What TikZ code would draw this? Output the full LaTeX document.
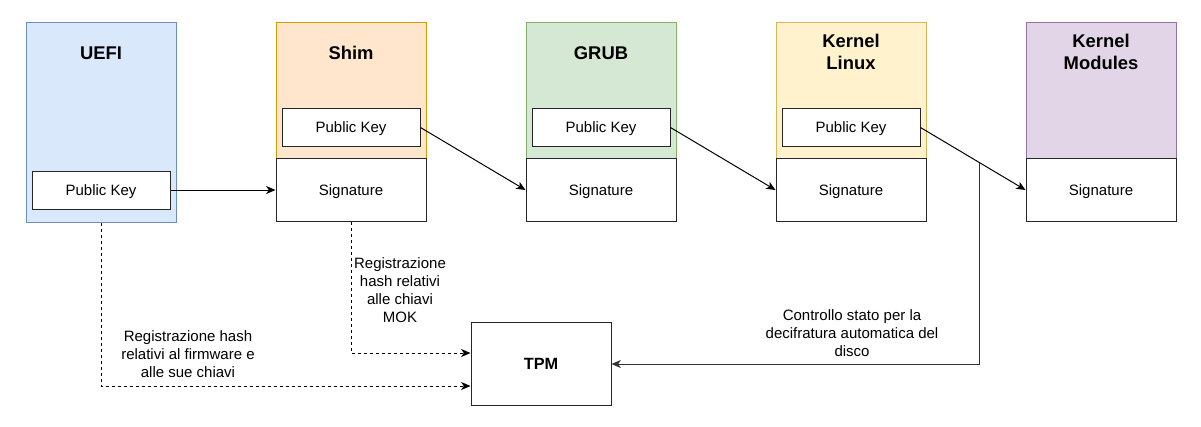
\documentclass[tikz,border=0pt]{standalone}
\usepackage{fontspec}
\setmainfont{Liberation Sans}
\usetikzlibrary{arrows.meta}
\definecolor{uefifill}{HTML}{DAE8FC}
\definecolor{uefiline}{HTML}{6C8EBF}
\definecolor{shimfill}{HTML}{FFE6CC}
\definecolor{shimline}{HTML}{D79B00}
\definecolor{grubfill}{HTML}{D5E8D4}
\definecolor{grubline}{HTML}{82B366}
\definecolor{kernfill}{HTML}{FFF2CC}
\definecolor{kernline}{HTML}{D6B656}
\definecolor{modfill}{HTML}{E1D5E7}
\definecolor{modline}{HTML}{9673A6}
\tikzset{
  stage/.style={draw, line width=0.75pt, minimum width=112.5pt, anchor=north, inner sep=0pt},
  sigbox/.style={draw=black!85, fill=white, line width=0.75pt, minimum width=112.5pt, minimum height=47.25pt, inner sep=0pt, text height=9pt, text depth=1pt, font=\fontsize{11.25}{13.5}\selectfont},
  keybox/.style={draw=black!85, fill=white, line width=0.75pt, minimum width=103.5pt, minimum height=28.5pt, inner sep=0pt, text height=9pt, text depth=1pt, font=\fontsize{11.25}{13.5}\selectfont},
  title/.style={font=\bfseries\fontsize{13.8}{16.5}\selectfont, align=center},
  note/.style={font=\fontsize{11.25}{13.5}\selectfont, align=center},
  link/.style={-{Stealth[length=7pt, width=6pt, inset=2pt]}, line width=0.75pt},
  reg/.style={link, dash pattern=on 2.25pt off 2.25pt}
}
\begin{document}
\begin{tikzpicture}[x=0.75pt, y=-0.75pt]
      \useasboundingbox (0,0) rectangle (1201,426);
      \def\top{21.5}
      \def\sigy{190}
      \def\keyy{127.5}

      % Stage boxes
      \node[stage, fill=uefifill, draw=uefiline, minimum height=150pt] (uefi) at (101,\top) {};
      \node[stage, fill=shimfill, draw=shimline, minimum height=102.75pt] (shim) at (351,\top) {};
      \node[stage, fill=grubfill, draw=grubline, minimum height=102.75pt] (grub) at (601,\top) {};
      \node[stage, fill=kernfill, draw=kernline, minimum height=102.75pt] (kern) at (851,\top) {};
      \node[stage, fill=modfill, draw=modline, minimum height=102.75pt] (mod) at (1101,\top) {};

      % Stage titles
      \node[title] (uefititle) at ([yshift=-23.5pt]uefi.north) {UEFI};
      \node[title] (shimtitle) at ([yshift=-23.5pt]shim.north) {Shim};
      \node[title] (grubtitle) at ([yshift=-23.5pt]grub.north) {GRUB};
      \node[title] (kerntitle) at ([yshift=-22.5pt]kern.north) {Kernel\\Linux};
      \node[title] (modtitle) at ([yshift=-22.5pt]mod.north) {Kernel\\Modules};

      % Signatures
      \node[sigbox] (shimsig) at (351,\sigy) {Signature};
      \node[sigbox] (grubsig) at (601,\sigy) {Signature};
      \node[sigbox] (kernsig) at (851,\sigy) {Signature};
      \node[sigbox] (modsig) at (1101,\sigy) {Signature};

      % Public keys
      \node[keybox] (uefikey) at (101,\sigy) {Public Key};
      \node[keybox] (shimkey) at (351,\keyy) {Public Key};
      \node[keybox] (grubkey) at (601,\keyy) {Public Key};
      \node[keybox] (kernkey) at (851,\keyy) {Public Key};

      % TPM
      \node[draw=black!85, line width=0.75pt, minimum width=105pt, minimum height=62.25pt, font=\bfseries\fontsize{12.2}{14.5}\selectfont] (tpm) at (541,364) {TPM};

      % Chain of trust
      \draw[link] (uefikey.east) -- (shimsig.west);
      \draw[link] (shimkey.east) -- (grubsig.west);
      \draw[link] (grubkey.east) -- (kernsig.west);
      \draw[link] (kernkey.east) -- coordinate[pos=0.566] (tap) (modsig.west);

      % Measurements into the TPM
      \draw[reg] (uefi.south) |- ([yshift=-16.5pt]tpm.west);
      \draw[reg] (shimsig.south) |- ([yshift=8.25pt]tpm.west);
      \draw[link, black!80] (tap) |- (tpm.east);

      % Connector labels
      \node[note] (fwnote) at (188,354) {Registrazione hash\\relativi al firmware e\\alle sue chiavi};
      \node[note] (moknote) at (400,290) {Registrazione\\hash relativi\\alle chiavi\\MOK};
      \node[note] (disknote) at (852,333) {Controllo stato per la\\decifratura automatica del\\disco};
    \end{tikzpicture}
\end{document}
